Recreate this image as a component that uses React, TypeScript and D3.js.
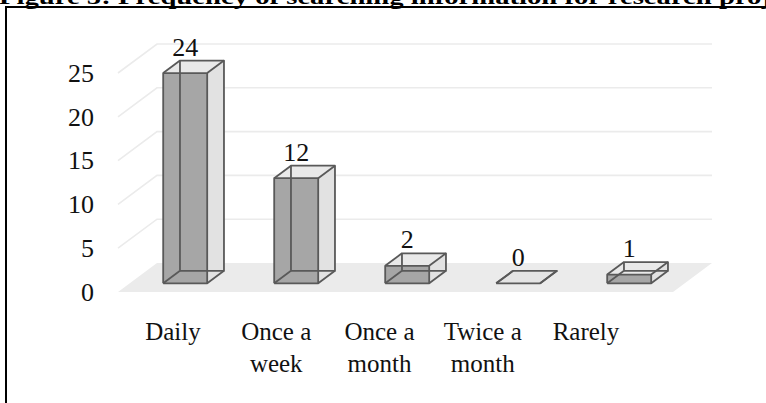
import React from "react";
import * as d3 from "d3";

// Survey responses: how often respondents search for information for research projects
const categories = ["Daily", "Once a week", "Once a month", "Twice a month", "Rarely"];
const categoryLines = [["Daily"], ["Once a", "week"], ["Once a", "month"], ["Twice a", "month"], ["Rarely"]];
const counts = [24, 12, 2, 0, 1];
const yTicks = [0, 5, 10, 15, 20, 25];
const titleText = "Figure 5: Frequency of searching information for research proj";

const W = 766;
const H = 403;
const FONT = "'Liberation Serif', 'Times New Roman', serif";

// 3D projection: depth vector from the front plane to the back wall
const DEPTH = { dx: 39, dy: -29 };
const BAR_FRONT = 0.3;
const BAR_BACK = 0.73;
const BAR_W = 44;

export default function App() {
  const x = d3.scaleBand<string>().domain(categories).range([118, 673]).padding(0);
  const y = d3.scaleLinear().domain([0, 25]).range([292, 73]);
  const labelX = d3.scalePoint<string>().domain(categories).range([173, 586]);

  const p = (px: number, v: number, f: number): [number, number] => [
    px + f * DEPTH.dx,
    y(v) + f * DEPTH.dy,
  ];
  const poly = (pts: [number, number][]) => pts.map((q) => q.join(",")).join(" ");

  const [x0, x1] = x.range();
  const floor = [p(x0, 0, 0), p(x0, 0, 1), p(x1, 0, 1), p(x1, 0, 0)];

  const edge = "#595959";

  return (
    <svg
      width={W}
      height={H}
      viewBox={`0 0 ${W} ${H}`}
      style={{ position: "absolute", left: 0, top: 0, background: "#fff" }}
    >
      {/* figure caption, clipped by the top of the page */}
      <text
        x={-1}
        y={4}
        fontFamily={FONT}
        fontWeight="bold"
        fontSize={22}
        textLength={772}
        lengthAdjust="spacingAndGlyphs"
        fill="#000"
      >
        {titleText}
      </text>
      {/* frame around the figure */}
      <rect x={6} y={7} width={W + 20} height={H + 20} fill="none" stroke="#000" strokeWidth={2} />

      {/* floor */}
      <polygon points={poly(floor)} fill="#ebebeb" />

      {/* gridlines on side and back walls */}
      {yTicks
        .filter((v) => v > 0)
        .map((v) => {
          const a = p(x0, v, 0);
          const b = p(x0, v, 1);
          const c = p(x1, v, 1);
          return (
            <polyline
              key={v}
              points={poly([a, b, c])}
              fill="none"
              stroke="#ebebeb"
              strokeWidth={1.6}
            />
          );
        })}

      {/* y axis tick labels */}
      {yTicks.map((v) => (
        <text
          key={v}
          x={94}
          y={y(v)}
          dy="0.34em"
          textAnchor="end"
          fontFamily={FONT}
          fontSize={26}
          fill="#111"
        >
          {v}
        </text>
      ))}

      {/* bars as wireframe boxes */}
      {categories.map((c, i) => {
        const v = counts[i];
        const cx = (x(c) ?? 0) + x.bandwidth() / 2;
        const l = cx - BAR_W / 2;
        const r = cx + BAR_W / 2;
        const fbl = p(l, 0, BAR_FRONT);
        const fbr = p(r, 0, BAR_FRONT);
        const ftl = p(l, v, BAR_FRONT);
        const ftr = p(r, v, BAR_FRONT);
        const bbl = p(l, 0, BAR_BACK);
        const bbr = p(r, 0, BAR_BACK);
        const btl = p(l, v, BAR_BACK);
        const btr = p(r, v, BAR_BACK);
        const edges: [number, number][][] = [
          [bbl, bbr, btr, btl, bbl],
          [fbl, bbl],
          [ftl, btl],
          [fbr, bbr],
          [ftr, btr],
          [fbl, fbr, ftr, ftl, fbl],
        ];
        const labelPos = p(cx, v, BAR_BACK);
        return (
          <g key={c}>
            {v > 0 ? (
              <>
                <polygon points={poly([bbl, bbr, btr, btl])} fill="#e6e6e6" />
                <polygon points={poly([fbr, bbr, btr, ftr])} fill="#e2e2e2" />
                <polygon points={poly([ftl, ftr, btr, btl])} fill="#e9e9e9" />
                <polygon points={poly([fbl, fbr, ftr, ftl])} fill="#a6a6a6" />
              </>
            ) : (
              <polygon points={poly([fbl, fbr, bbr, bbl])} fill="#e4e4e4" />
            )}
            {edges.map((e, k) => (
              <polyline
                key={k}
                points={poly(e)}
                fill="none"
                stroke={edge}
                strokeWidth={1.8}
                strokeLinejoin="round"
              />
            ))}
            <text
              x={cx + BAR_FRONT * DEPTH.dx}
              y={labelPos[1] - 5}
              textAnchor="middle"
              fontFamily={FONT}
              fontSize={26}
              fill="#111"
            >
              {v}
            </text>
          </g>
        );
      })}

      {/* category labels */}
      {categories.map((c, i) => (
        <text
          key={c}
          x={labelX(c)}
          y={340}
          textAnchor="middle"
          fontFamily={FONT}
          fontSize={25}
          fill="#111"
        >
          {categoryLines[i].map((line, k) => (
            <tspan key={k} x={labelX(c)} dy={k === 0 ? 0 : 32}>
              {line}
            </tspan>
          ))}
        </text>
      ))}
    </svg>
  );
}
